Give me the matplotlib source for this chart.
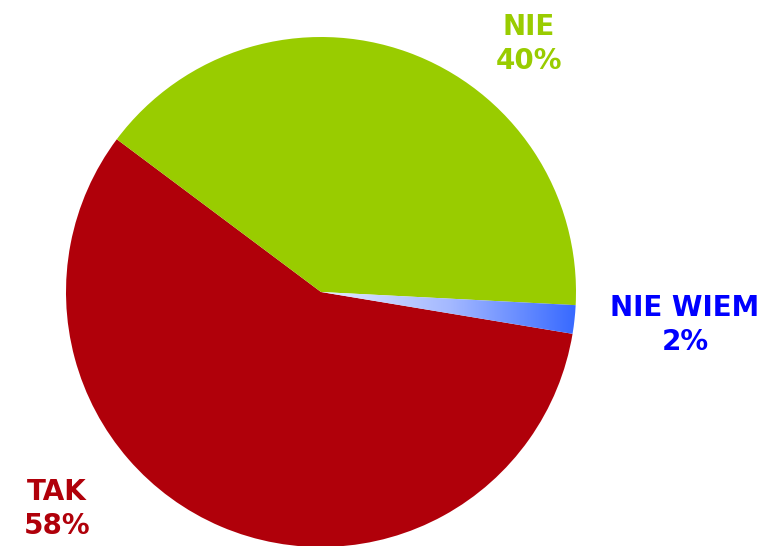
import numpy as np
import matplotlib.pyplot as plt
from matplotlib.colors import LinearSegmentedColormap

# slice shares (labels show the rounded values)
labels = ["TAK", "NIE WIEM", "NIE"]
values = [57.6, 1.8, 40.6]
pct_labels = ["58%", "2%", "40%"]
colors = ["#b0000a", "#3f6fff", "#99cc00"]
text_colors = ["#b0000a", "#0000ff", "#99cc00"]

fig = plt.figure(figsize=(7.64, 5.46), dpi=100)
ax = fig.add_axes([0, 0, 1, 1])

cx, cy, r = 321, 254, 255
wedges, _ = ax.pie(values, colors=colors, startangle=143.2, center=(cx, cy),
                   radius=r, counterclock=True, frame=True,
                   wedgeprops=dict(linewidth=0))
ax.set_xlim(0, 764)
ax.set_ylim(0, 546)
ax.set_aspect("equal")
ax.axis("off")

# gradient fill of the small blue slice
cmap = LinearSegmentedColormap.from_list("bl", ["#e4ebff", "#a3b8ff", "#3366ff"])
grad = np.linspace(0, 1, 256).reshape(1, -1)
im = ax.imshow(grad, cmap=cmap, extent=(cx, cx + r + 5, cy - 60, cy + 10),
               aspect="auto", zorder=3)
im.set_clip_path(wedges[1])
wedges[1].set_facecolor("none")

pos = [(57, 546 - 509), (685, 546 - 325), (529, 546 - 44)]
for lab, pct, col, (x, y) in zip(labels, pct_labels, text_colors, pos):
    ax.text(x, y, lab + "\n" + pct, color=col, fontsize=20, fontweight="bold",
            ha="center", va="center", linespacing=1.25)

fig.savefig("out.png", dpi=100)
